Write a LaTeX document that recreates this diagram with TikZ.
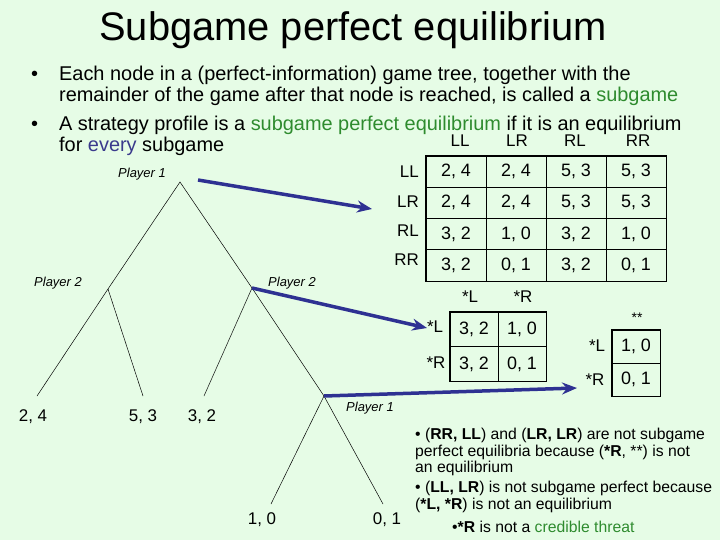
\documentclass[tikz,border=0pt]{standalone}
\usepackage{fontspec}
\setmainfont{Liberation Sans}
\usepackage{xcolor}
\usetikzlibrary{arrows.meta,positioning}
\definecolor{slidebg}{HTML}{E6FCE6}
\definecolor{keygreen}{HTML}{2E8B2E}
\definecolor{keyblue}{HTML}{3A3A8C}
\definecolor{navy}{HTML}{2E3192}
\tikzset{
  branch/.style={draw=black, line width=0.5pt},
  player/.style={font=\fontsize{13}{15}\selectfont\itshape, inner sep=0pt},
  payoff/.style={font=\fontsize{17}{19}\selectfont, inner sep=0pt},
  cell/.style={draw=black, line width=0.7pt, minimum width=60bp, minimum height=31.25bp, inner sep=0pt, font=\fontsize{18}{20}\selectfont},
  smallcell/.style={cell, minimum width=48bp, minimum height=34.5bp},
  strat/.style={font=\fontsize{17}{19}\selectfont, inner sep=0pt},
  border/.style={draw=black, line width=1.5pt},
  link/.style={-{Stealth[length=15bp,width=12bp,inset=5bp]}, draw=navy, line width=3.5bp},
  bullettext/.style={font=\fontsize{20}{21.5}\selectfont, align=left, inner sep=0pt, anchor=north west},
  note/.style={font=\fontsize{15.8}{17}\selectfont, align=left, inner sep=0pt, anchor=north west}
}
\begin{document}
\begin{tikzpicture}[x=1bp, y=-1bp]
  \fill[slidebg] (0,0) rectangle (720,540);
  \useasboundingbox (0,0) rectangle (720,540);

  \node[font=\fontsize{40}{44}\selectfont] (title) at (353,30) {Subgame perfect equilibrium};

  \node[bullettext] (item1) at (31,65) {\begin{tabular}{@{}l@{\hspace{21bp}}l@{}}
    •&Each node in a (perfect-information) game tree, together with the\\
    &remainder of the game after that node is reached, is called a \textcolor{keygreen}{subgame}
  \end{tabular}};
  \node[bullettext] (item2) at (31,115) {\begin{tabular}{@{}l@{\hspace{21bp}}l@{}}
    •&A strategy profile is a \textcolor{keygreen}{subgame perfect equilibrium} if it is an equilibrium\\
    &for \textcolor{keyblue}{every} subgame
  \end{tabular}};

  % game tree
  \coordinate (root) at (180,182);
  \coordinate (p2a) at (108,289);
  \coordinate (p2b) at (252,288);
  \coordinate (p1b) at (324,396);
  \coordinate (endA) at (37,396);
  \coordinate (endB) at (143,396);
  \coordinate (endC) at (204,396);
  \coordinate (endD) at (271,504);
  \coordinate (endE) at (383,504);
  \draw[branch] (endA) -- (p2a) -- (root) -- (p2b) -- (p1b) -- (endE);
  \draw[branch] (p2a) -- (endB);
  \draw[branch] (p2b) -- (endC);
  \draw[branch] (p1b) -- (endD);

  \node[player] (lblroot) at (142,174) {Player 1};
  \node[player] (lblp2a) at (58,283) {Player 2};
  \node[player] (lblp2b) at (292,283) {Player 2};
  \node[player] (lblp1b) at (370,408) {Player 1};

  \node[payoff] (payA) at (33,417) {2, 4};
  \node[payoff] (payB) at (143,417) {5, 3};
  \node[payoff] (payC) at (202,417) {3, 2};
  \node[payoff] (payD) at (262,520) {1, 0};
  \node[payoff] (payE) at (387,520) {0, 1};

  % full strategic form
  \foreach \lab/\xx in {LL/460,LR/517,RL/575,RR/638}
    \node[strat] (col-\lab) at (\xx,141) {\lab};
  \foreach \lab [count=\r from 0] in {LL,LR,RL,RR}
    \node[strat, anchor=east] (row-\lab) at (419,172+29.3*\r) {\lab};
  \foreach \ca/\cb/\cc/\cd [count=\r from 0] in {{2, 4}/{2, 4}/{5, 3}/{5, 3},{2, 4}/{2, 4}/{5, 3}/{5, 3},{3, 2}/{1, 0}/{3, 2}/{1, 0},{3, 2}/{0, 1}/{3, 2}/{0, 1}} {
    \node[cell] (big-\r-0) at (456,171.6+31.25*\r) {\ca};
    \node[cell] (big-\r-1) at (516,171.6+31.25*\r) {\cb};
    \node[cell] (big-\r-2) at (576,171.6+31.25*\r) {\cc};
    \node[cell] (big-\r-3) at (636,171.6+31.25*\r) {\cd};
  }
  \draw[border] (big-0-0.north west) rectangle (big-3-3.south east);

  % subgame after Player 2 (right)
  \node[strat] (colL) at (470,297) {*L};
  \node[strat] (colR) at (523,297) {*R};
  \node[strat] (rowL) at (435,327) {*L};
  \node[strat] (rowR) at (436,363) {*R};
  \node[smallcell] (sub-0-0) at (474,329.5) {3, 2};
  \node[smallcell] (sub-0-1) at (522,329.5) {1, 0};
  \node[smallcell] (sub-1-0) at (474,364) {3, 2};
  \node[smallcell] (sub-1-1) at (522,364) {0, 1};
  \draw[border] (sub-0-0.north west) rectangle (sub-1-1.south east);

  % subgame after Player 1 (lower)
  \node[strat, font=\fontsize{14}{16}\selectfont] (colStar) at (637,318) {**};
  \node[strat] (rowL2) at (597,346) {*L};
  \node[strat] (rowR2) at (595,380) {*R};
  \node[smallcell, minimum height=33bp] (last-0) at (636,346.5) {1, 0};
  \node[smallcell, minimum height=33bp] (last-1) at (636,379.5) {0, 1};
  \draw[border] (last-0.north west) rectangle (last-1.south east);

  % links from subgames to tables
  \coordinate (tail1) at (198,180);
  \coordinate (head1) at (372,209);
  \coordinate (head2) at (427,328);
  \coordinate (head3) at (577,388);
  \draw[link] (tail1) -- (head1);
  \draw[link] (p2b) -- (head2);
  \draw[link] (p1b) -- (head3);

  \node[note] (notes) at (415,427.5) {• (\textbf{RR, LL}) and (\textbf{LR, LR}) are not subgame\\perfect equilibria because (\textbf{*R}, **) is not\\an equilibrium\\[3bp]• (\textbf{LL, LR}) is not subgame perfect because\\(\textbf{*L, *R}) is not an equilibrium};
  \node[note] (threat) at (452,521) {•\textbf{*R} is not a \textcolor{keygreen}{credible threat}};
\end{tikzpicture}
\end{document}
